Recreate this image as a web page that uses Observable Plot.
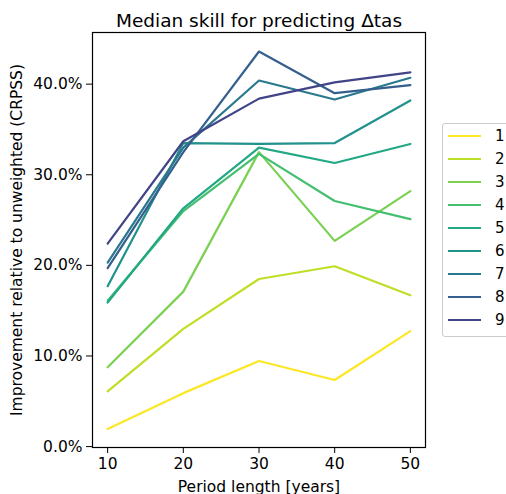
<!DOCTYPE html>
<html>
<head>
<meta charset="utf-8">
<script src="https://cdn.jsdelivr.net/npm/d3@7"></script>
<script src="https://cdn.jsdelivr.net/npm/@observablehq/plot@0.6"></script>
<style>
  html, body { margin: 0; padding: 0; background: #fff; }
  #wrap { position: relative; width: 506px; height: 494px; font-family: "DejaVu Sans", sans-serif; overflow: hidden; }
  #legend { position: absolute; left: 442px; top: 123px; width: 80px; height: 214px; border: 1px solid #cccccc; border-radius: 3px; background: #fff; box-sizing: border-box; }
  .row { position: absolute; left: 5px; height: 20px; display: flex; align-items: center; font-size: 15px; color: #000; }
  .row svg { margin-right: 14px; }
</style>
</head>
<body>
<div id="wrap"></div>
<script>
const periods = [10, 20, 30, 40, 50];
const seriesNames = ["1", "2", "3", "4", "5", "6", "7", "8", "9"];
const s1 = [1.95, 5.9, 9.45, 7.35, 12.75];
const s2 = [6.1, 13.0, 18.5, 19.9, 16.7];
const s3 = [8.75, 17.1, 32.5, 22.7, 28.2];
const s4 = [16.1, 26.0, 32.3, 27.1, 25.1];
const s5 = [15.9, 26.3, 33.0, 31.3, 33.4];
const s6 = [17.7, 33.5, 33.4, 33.5, 38.2];
const s7 = [20.3, 33.0, 40.4, 38.3, 40.7];
const s8 = [19.7, 32.5, 43.6, 39.0, 39.9];
const s9 = [22.4, 33.7, 38.4, 40.2, 41.3];
const allSeries = [s1, s2, s3, s4, s5, s6, s7, s8, s9];
const colors = ["#fde725", "#bddf26", "#7ad151", "#44bf70", "#22a884", "#21918c", "#2a788e", "#355f8d", "#414487"];

const rows = [];
allSeries.forEach((vals, i) => {
  vals.forEach((v, j) => rows.push({series: seriesNames[i], period: periods[j], value: v}));
});

const plot = Plot.plot({
  width: 506,
  height: 494,
  marginLeft: 92,
  marginRight: 81,
  marginTop: 32,
  marginBottom: 47,
  style: {fontFamily: "DejaVu Sans, sans-serif", fontSize: "15px", color: "#000", background: "#fff"},
  x: {domain: [8, 52]},
  y: {domain: [-0.1, 45.7]},
  color: {domain: seriesNames, range: colors},
  marks: [
    Plot.line(rows, {x: "period", y: "value", z: "series", stroke: "series", strokeWidth: 2.2}),
    Plot.frame({stroke: "#000", strokeWidth: 1.2}),
    Plot.axisX({ticks: periods, tickSize: 6, tickPadding: 4, fontSize: 15.5, label: "Period length [years]", labelAnchor: "center", labelOffset: 44, labelArrow: "none"}),
    Plot.axisY({ticks: [0, 10, 20, 30, 40], tickSize: 6, tickPadding: 4, fontSize: 15.5, tickFormat: d => d.toFixed(1) + "%", label: "Improvement relative to unweighted (CRPSS)", labelAnchor: "center", labelOffset: 82, labelArrow: "none"}),
    Plot.text(["Median skill for predicting Δtas"], {frameAnchor: "top", dy: -19, fontSize: 18.5, fill: "#000"})
  ]
});

const wrap = document.getElementById("wrap");
wrap.appendChild(plot);

const legend = document.createElement("div");
legend.id = "legend";
seriesNames.forEach((name, i) => {
  const row = document.createElement("div");
  row.className = "row";
  row.style.top = (2 + i * 23) + "px";
  row.innerHTML = `<svg width="33" height="4"><line x1="0" y1="2" x2="33" y2="2" stroke="${colors[i]}" stroke-width="2.2"/></svg><span>${name}</span>`;
  legend.appendChild(row);
});
wrap.appendChild(legend);
</script>
</body>
</html>
